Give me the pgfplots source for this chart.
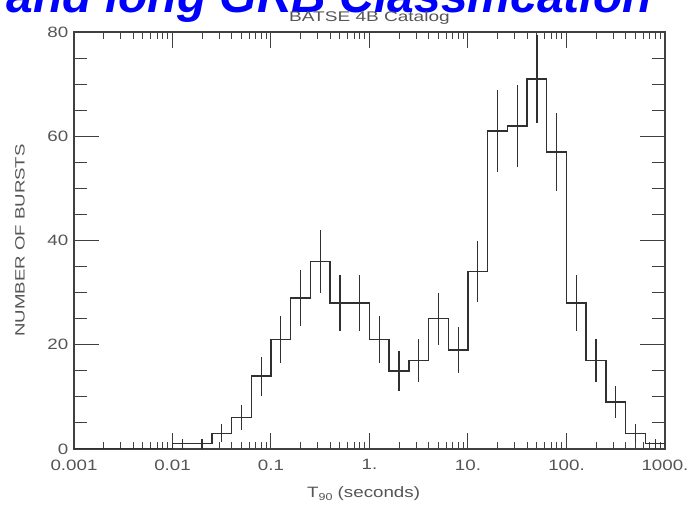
\documentclass[border=0pt]{standalone}
\usepackage{pgfplots}
\pgfplotsset{compat=1.18}
\usepackage{fontspec}
\setmainfont{Liberation Sans}
\definecolor{txtgray}{HTML}{555555}
\definecolor{axgray}{HTML}{404040}
\definecolor{histc}{HTML}{303030}
\definecolor{titleblue}{HTML}{0000FF}
\pgfplotsset{
  commonax/.style={
    at={(74pt,56pt)}, anchor=south west, scale only axis,
    width=591pt, height=417pt,
    xmin=0.001, xmax=1000, ymin=0, ymax=80,
    axis line style={axgray, line width=1.3pt},
    tick style={axgray, line width=1.0pt},
    tick align=inside,
    /pgf/number format/assume math mode=true,
    ticklabel style={text=txtgray, font=\fontsize{15}{15}\selectfont, xscale=1.25},
  }
}
\begin{document}
\begin{tikzpicture}[x=1pt,y=1pt]
\useasboundingbox (0pt,0pt) rectangle (694pt,505pt);
\clip (0pt,0pt) rectangle (694pt,505pt);
\fill[white] (0pt,0pt) rectangle (694pt,505pt);
\node[anchor=base east, text=titleblue, inner sep=0pt,
  font=\fontsize{48}{56}\selectfont\bfseries\itshape] at (652pt,492pt) {Short and long GRB Classification};
% axis carrying the y ticks
\begin{semilogxaxis}[commonax,
  xtick=\empty, minor xtick={},
  ytick={0,20,40,60,80}, minor y tick num=3,
  major tick length=25pt, minor tick length=13pt,
  yticklabel style={xshift=-1pt},
  ylabel={NUMBER OF BURSTS},
  ylabel style={at={(axis description cs:-0.0914,0.5)}, anchor=center,
    text=txtgray, font=\fontsize{13.5}{14}\selectfont, xscale=1.38},
]
\end{semilogxaxis}
% axis carrying the x ticks and the data
\begin{semilogxaxis}[commonax,
  ytick=\empty, minor ytick={},
  xtick={0.001,0.01,0.1,1,10,100,1000},
  xticklabels={0.001,0.01,0.1,1.,10.,100.,1000.},
  minor xtick={0.002,0.003,0.004,0.005,0.006,0.007,0.008,0.009,
    0.02,0.03,0.04,0.05,0.06,0.07,0.08,0.09,
    0.2,0.3,0.4,0.5,0.6,0.7,0.8,0.9,
    2,3,4,5,6,7,8,9,
    20,30,40,50,60,70,80,90,
    200,300,400,500,600,700,800,900},
  major tick length=16pt, minor tick length=7pt,
  xticklabel style={yshift=-7pt},
  xlabel={T\raisebox{-3pt}{\fontsize{10}{10}\selectfont 90} (seconds)},
  xlabel style={at={(axis description cs:0.49,-0.108)}, anchor=center,
    text=txtgray, font=\fontsize{15}{15}\selectfont, xscale=1.25},
  every axis title shift=0pt,
  title={BATSE 4B Catalog},
  title style={at={(axis description cs:0.5,1.034)}, anchor=center,
    text=txtgray, font=\fontsize{14}{14}\selectfont, xscale=1.36},
]
\addplot[const plot, histc, line width=1.4pt] coordinates {
(0.001,0) (0.01,1) (0.015849,1) (0.025119,3) (0.039811,6) (0.063096,14)
(0.1,21) (0.15849,29) (0.25119,36) (0.39811,28) (0.63096,28)
(1,21) (1.5849,15) (2.5119,17) (3.9811,25) (6.3096,19)
(10,34) (15.849,61) (25.119,62) (39.811,71) (63.096,57)
(100,28) (158.49,17) (251.19,9) (398.11,3) (630.96,1) (1000,1)};
\addplot[draw=none, mark=none,
  error bars/.cd, y dir=both, y explicit, error mark=none,
  error bar style={draw=histc, line width=1.2pt}] coordinates {
(0.012589,1) +- (0,1)
(0.019953,1) +- (0,1)
(0.031623,3) +- (0,1.732)
(0.050119,6) +- (0,2.449)
(0.079433,14) +- (0,3.742)
(0.12589,21) +- (0,4.583)
(0.19953,29) +- (0,5.385)
(0.31623,36) +- (0,6)
(0.50119,28) +- (0,5.292)
(0.79433,28) +- (0,5.292)
(1.2589,21) +- (0,4.583)
(1.9953,15) +- (0,3.873)
(3.1623,17) +- (0,4.123)
(5.0119,25) +- (0,5)
(7.9433,19) +- (0,4.359)
(12.589,34) +- (0,5.831)
(19.953,61) +- (0,7.810)
(31.623,62) +- (0,7.874)
(50.119,71) +- (0,8.426)
(79.433,57) +- (0,7.550)
(125.89,28) +- (0,5.292)
(199.53,17) +- (0,4.123)
(316.23,9) +- (0,3)
(501.19,3) +- (0,1.732)
(794.33,1) +- (0,1)};
\end{semilogxaxis}
\end{tikzpicture}
\end{document}
